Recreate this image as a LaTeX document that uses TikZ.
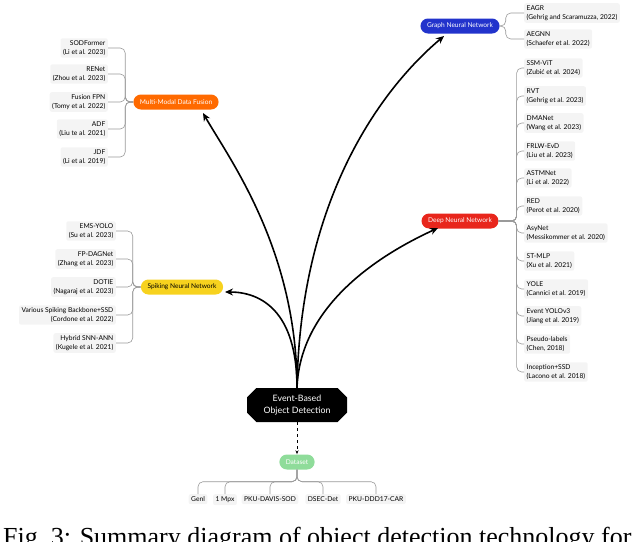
\documentclass[tikz,border=0pt]{standalone}
\usepackage{fontspec}
\setmainfont{Lato}
\newfontfamily\capfont{Liberation Serif}
\usetikzlibrary{arrows.meta,shapes.misc}
\definecolor{leafbg}{HTML}{F4F4F4}
\definecolor{mmdf}{HTML}{FF6A00}
\definecolor{snn}{HTML}{F7D21E}
\definecolor{gnn}{HTML}{2233CC}
\definecolor{dnn}{HTML}{E8261C}
\definecolor{dset}{HTML}{8FDC9A}
\definecolor{conn}{HTML}{9A9A9A}
\begin{document}
\begin{tikzpicture}[x=1pt,y=-1pt,
  cat/.style={rounded rectangle,minimum height=15pt,inner xsep=6pt,font=\fontsize{6.6}{7}\selectfont,text=white},
  leafR/.style={fill=leafbg,rounded corners=2pt,align=right,font=\fontsize{6.7}{8.5}\selectfont,inner sep=2.5pt},
  leafL/.style={fill=leafbg,rounded corners=2pt,align=left,font=\fontsize{6.7}{8.5}\selectfont,inner sep=2.5pt},
  link/.style={draw=conn,line width=0.6pt,rounded corners=5pt},
  bigarrow/.style={draw=black,line width=1.6pt,-{Stealth[length=8pt,width=7pt]}}]
\useasboundingbox (0,0) rectangle (640,541);
\clip (0,0) rectangle (640,541);
% root
\node[fill=black,text=white,chamfered rectangle,chamfered rectangle corners={north west,north east,south west,south east},chamfered rectangle xsep=6pt,minimum width=100pt,minimum height=34pt,align=center,font=\fontsize{8.8}{11.5}\selectfont] (root) at (297,405) {Event-Based\\Object Detection};
\node[cat,fill=dset,minimum width=34pt] (ds) at (297,462) {Dataset};
\node[cat,fill=mmdf] (mm) at (176,102) {Multi-Modal Data Fusion};
\node[cat,fill=snn,text=black] (sn) at (182,287) {Spiking Neural Network};
\node[cat,fill=gnn] (gn) at (460,26) {Graph Neural Network};
\node[cat,fill=dnn] (dn) at (460,221) {Deep Neural Network};
\draw[black,line width=0.8pt,dashed,-{Stealth[length=4pt]}] (root.south) -- (ds.north);
\coordinate (top) at (297,388);
\draw[bigarrow] (top) .. controls (297,250) and (230,160) .. (203,113);
\draw[bigarrow] (top) .. controls (297,310) and (260,292) .. (225,292);
\draw[bigarrow] (top) .. controls (300,200) and (380,90) .. (444,36);
\draw[bigarrow] (top) .. controls (300,300) and (390,250) .. (438,228);
% MMDF leaves
\foreach \n/\t/\y in {m1/{SODFormer\\(Li et al. 2023)}/48, m2/{RENet\\(Zhou et al. 2023)}/74, m3/{Fusion FPN\\(Tomy et al. 2022)}/102, m4/{ADF\\(Liu te al. 2021)}/129, m5/{JDF\\(Li et al. 2019)}/157}{
  \node[leafR,anchor=east] (\n) at (108,\y) {\t};
  \draw[link] (mm.west) -- ++(-8,0) |- (\n.east);}
% SNN leaves
\foreach \n/\t/\y in {s1/{EMS-YOLO\\(Su et al. 2023)}/231, s2/{FP-DAGNet\\(Zhang et al. 2023)}/259, s3/{DOTIE\\(Nagaraj et al. 2023)}/287, s4/{Various Spiking Backbone+SSD\\(Cordone et al. 2022)}/315, s5/{Hybrid SNN-ANN\\(Kugele et al. 2021)}/343}{
  \node[leafR,anchor=east] (\n) at (116,\y) {\t};
  \draw[link] (sn.west) -- ++(-8,0) |- (\n.east);}
% GNN leaves
\foreach \n/\t/\y in {g1/{EAGR\\(Gehrig and Scaramuzza, 2022)}/13, g2/{AEGNN\\(Schaefer et al. 2022)}/39}{
  \node[leafL,anchor=west] (\n) at (524,\y) {\t};
  \draw[link] (gn.east) -- ++(6,0) |- (\n.west);}
% DNN leaves
\foreach \n/\t/\y in {d1/{SSM-ViT\\(Zubi\'c et al. 2024)}/68, d2/{RVT\\(Gehrig et al. 2023)}/96, d3/{DMANet\\(Wang et al. 2023)}/123, d4/{FRLW-EvD\\(Liu et al. 2023)}/151, d5/{ASTMNet\\(Li et al. 2022)}/178, d6/{RED\\(Perot et al. 2020)}/206, d7/{AsyNet\\(Messikommer et al. 2020)}/233, d8/{ST-MLP\\(Xu et al. 2021)}/261, d9/{YOLE\\(Cannici et al. 2019)}/289, d10/{Event YOLOv3\\(Jiang et al. 2019)}/316, d11/{Pseudo-labels\\(Chen, 2018)}/344, d12/{Inception+SSD\\(Lacono et al. 2018)}/372}{
  \node[leafL,anchor=west] (\n) at (524,\y) {\t};
  \draw[link] (dn.east) -- ++(18,0) |- (\n.west);}
% dataset leaves
\foreach \n/\t/\x in {e1/Genl/198, e2/1 Mpx/225, e3/PKU-DAVIS-SOD/270, e4/DSEC-Det/323, e5/PKU-DDD17-CAR/376}{
  \node[leafR,align=center,anchor=north,font=\fontsize{6.7}{7}\selectfont] (\n) at (\x,494) {\t};
  \draw[link] (ds.south) -- ++(0,12) -| (\n.north);}
% caption (cut off at the bottom edge, as in the reference)
\node[font=\capfont\fontsize{26}{30}\selectfont,anchor=north west,inner sep=0pt] (cap) at (3,527) {Fig.~3: Summary diagram of object detection technology for};
\end{tikzpicture}
\end{document}
